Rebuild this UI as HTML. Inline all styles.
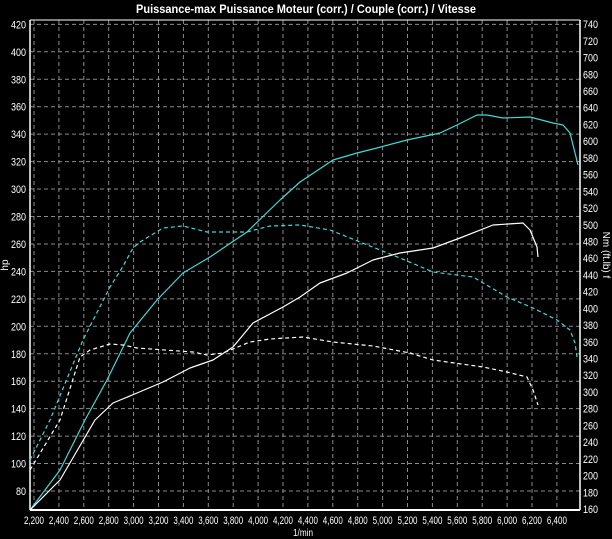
<!DOCTYPE html>
<html><head><meta charset="utf-8"><style>
html,body{margin:0;padding:0;background:#000;width:612px;height:539px;overflow:hidden}
svg{display:block}
text{font-family:"Liberation Sans",sans-serif;fill:#fff}
</style></head><body>
<svg width="612" height="539" viewBox="0 0 612 539">
<rect width="612" height="539" fill="#000"/>
<text x="306" y="13" font-size="12" font-weight="bold" text-anchor="middle" textLength="340" lengthAdjust="spacingAndGlyphs">Puissance-max Puissance Moteur (corr.) / Couple (corr.) / Vitesse</text>
<g stroke="#8a8a8a" stroke-width="1" stroke-dasharray="4,3" id="grid"></g>
<g id="lbl" font-size="11"></g>
<line x1="30" y1="20" x2="580" y2="20" stroke="#fff" stroke-width="1"/>
<line x1="30" y1="20" x2="30" y2="510" stroke="#fff" stroke-width="1.5"/>
<line x1="580" y1="20" x2="580" y2="510" stroke="#fff" stroke-width="1.5"/>
<line x1="30" y1="510" x2="580" y2="510" stroke="#fff" stroke-width="2"/>
<text x="8" y="265" font-size="10" transform="rotate(-90 8 265)" text-anchor="middle">hp</text>
<text x="603" y="255" font-size="10" transform="rotate(90 603 255)" text-anchor="middle">Nm (ft.lb) f</text>
<text x="303" y="536" font-size="10" text-anchor="middle" textLength="20" lengthAdjust="spacingAndGlyphs">1/min</text>
<g fill="none" stroke-width="1.2" stroke-linejoin="round">
<polyline stroke="#40d8d8" points="30,510 60,470 85,420 107,380 130,333 157,300 183,273 210,257 247,232 280,200 300,182 333,160 357,153 377,148 407,140 440,133 457,125 477,115 487,115 503,118 530,117 553,123 563,125 570,133 578,165"/>
<polyline stroke="#40d8d8" stroke-dasharray="4,3" points="30,460 50,420 83,340 110,287 122,268 133,248 140,242 163,228 183,226 207,232 247,232 270,226 300,225 330,230 360,242 400,258 433,272 473,277 490,287 507,297 533,308 557,320 570,330 575,343 577,357"/>
<polyline stroke="#fff" points="30,510 60,480 95,420 113,403 137,393 163,382 190,368 213,360 233,347 253,323 283,307 300,297 320,283 347,273 373,260 400,253 433,248 460,238 493,225 523,223 530,230 537,247 538,257"/>
<polyline stroke="#fff" stroke-dasharray="4,3" points="30,470 60,420 80,357 90,350 110,344 123,345 137,348 193,352 207,355 223,353 250,342 270,339 303,337 333,342 373,346 410,353 433,360 483,367 507,372 527,377 533,390 538,405"/>
</g>
</svg>
<script>
var ns="http://www.w3.org/2000/svg",g=document.getElementById("grid"),L=document.getElementById("lbl");
function el(p,tag,a,t){var e=document.createElementNS(ns,tag);for(var k in a)e.setAttribute(k,a[k]);if(t)e.textContent=t;p.appendChild(e);}
for(var v=80;v<=420;v+=20){var y=491-(v-80)/20*27.45;el(g,"line",{x1:30,x2:580,y1:y,y2:y});el(L,"text",{x:26,y:y+4,"text-anchor":"end",textLength:v>=100?15:10,lengthAdjust:"spacingAndGlyphs"},v);}
for(var r=2200;r<=6400;r+=200){var x=34+(r-2200)/200*24.9;el(g,"line",{x1:x,x2:x,y1:20,y2:510});el(L,"text",{x:x-10,y:524,textLength:20,lengthAdjust:"spacingAndGlyphs"},(r/1000|0)+","+String(r%1000).padStart(3,"0"));}
for(var n=160;n<=740;n+=20){var y=509-(n-160)/20*16.72;el(L,"text",{x:583,y:y+4,textLength:15,lengthAdjust:"spacingAndGlyphs"},n);}
</script>
</body></html>
